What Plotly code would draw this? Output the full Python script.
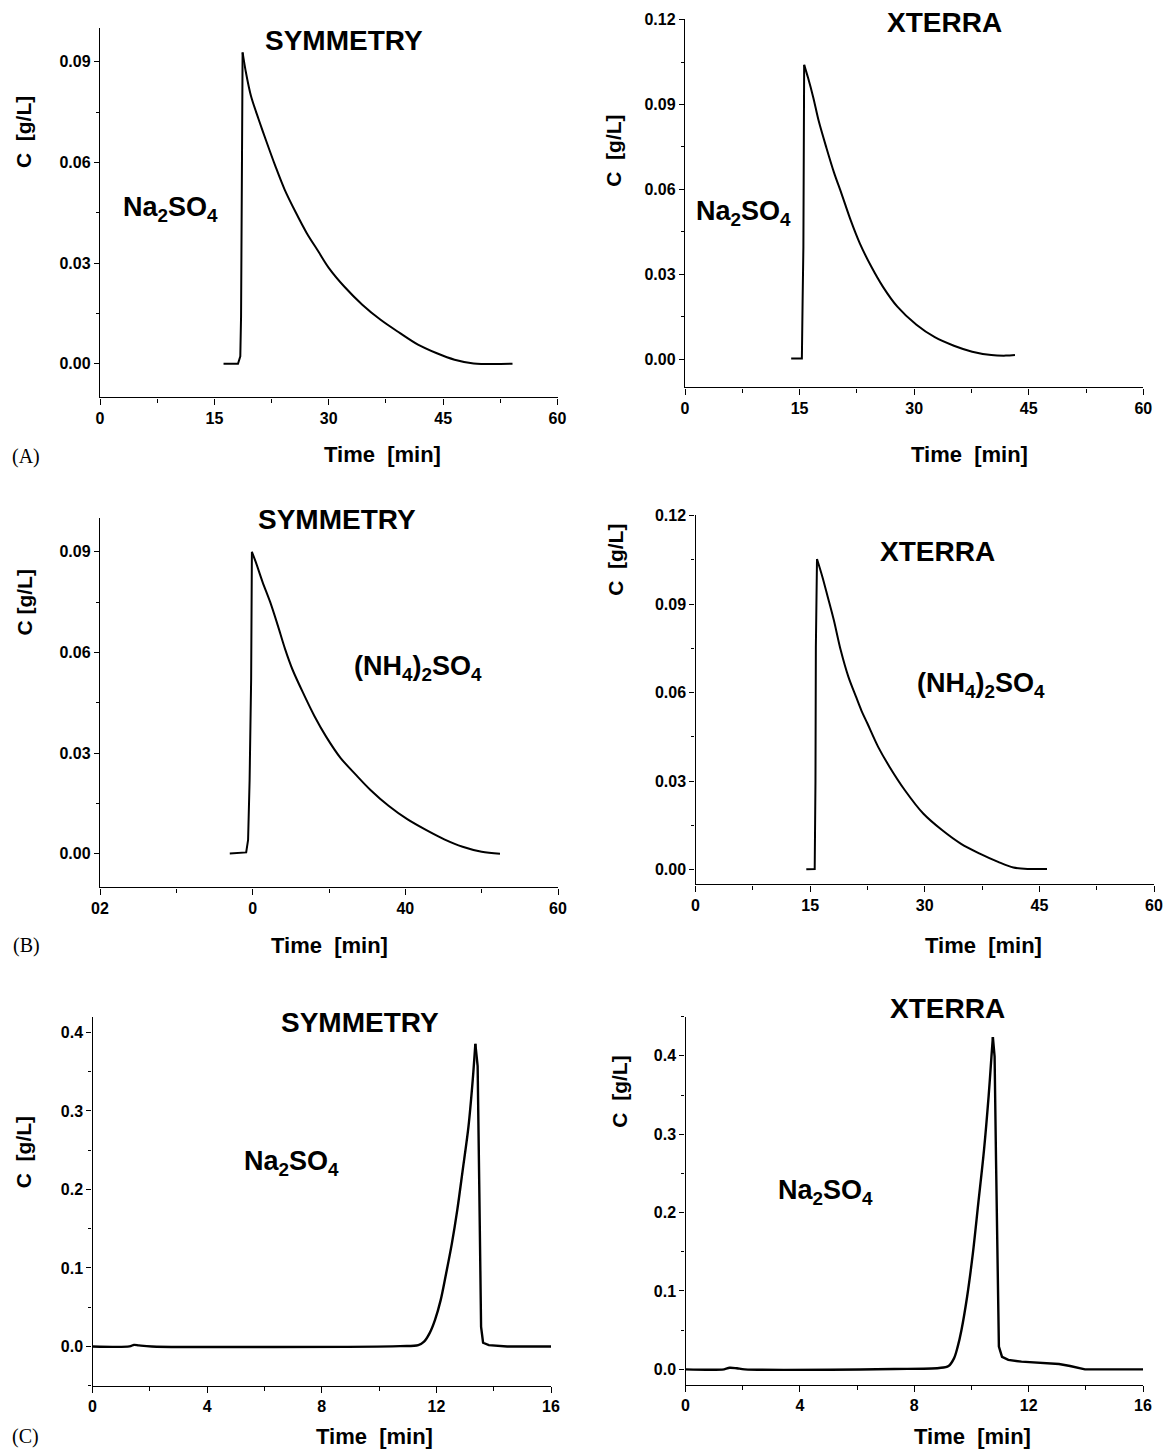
import plotly.graph_objects as go

# ---------------- data ----------------
# (A) Na2SO4 - SYMMETRY
a_sym_t = [16.2, 18.1, 18.4, 18.5, 18.6, 18.7, 19.1, 19.8, 20.8, 21.8, 23.0, 24.2, 25.7, 27.1, 28.6,
           30.0, 32.0, 34.4, 36.8, 39.3, 41.7, 44.1, 46.5, 49.0, 54.1]
a_sym_c = [0.0, 0.0, 0.0022, 0.0141, 0.053, 0.0928, 0.0873, 0.0798, 0.0729, 0.0664, 0.0589, 0.052,
           0.045, 0.039, 0.0336, 0.0286, 0.0231, 0.0176, 0.0131, 0.0092, 0.0057, 0.0032, 0.0012,
           0.0001, 0.0]
# (A) Na2SO4 - XTERRA
a_xt_t = [13.9, 15.3, 15.4, 15.5, 15.6, 16.1, 16.8, 17.5, 18.5, 19.5, 20.5, 21.7, 22.9, 24.4, 25.9,
          27.8, 30.3, 32.7, 35.2, 37.6, 40.1, 42.0, 43.2]
a_xt_c = [0.0002, 0.0002, 0.021, 0.0396, 0.104, 0.0995, 0.0924, 0.0842, 0.0748, 0.066, 0.0584,
          0.049, 0.0408, 0.0326, 0.0256, 0.0185, 0.0121, 0.0077, 0.0047, 0.0026, 0.0014, 0.0012,
          0.0014]
# (B) (NH4)2SO4 - SYMMETRY
b_sym_t = [17.0, 19.15, 19.4, 19.6, 19.8, 19.9, 20.4, 21.3, 22.3, 23.3, 24.25, 25.2, 26.7, 28.1,
           29.6, 31.5, 33.5, 35.4, 37.8, 40.25, 42.7, 45.1, 47.5, 50.0, 52.4]
b_sym_c = [0.0001, 0.0004, 0.0041, 0.022, 0.052, 0.09, 0.087, 0.081, 0.075, 0.068, 0.061, 0.055,
           0.0475, 0.041, 0.035, 0.0286, 0.0236, 0.0191, 0.0143, 0.0103, 0.0071, 0.0043, 0.0021,
           0.0006, 0.0]
# (B) (NH4)2SO4 - XTERRA
b_xt_t = [14.5, 15.6, 15.7, 15.75, 15.9, 16.6, 17.3, 18.1, 19.0, 20.0, 21.0, 21.7, 22.5, 23.9, 25.4,
          27.4, 29.8, 32.3, 34.7, 37.2, 39.6, 41.6, 43.6, 46.0]
b_xt_c = [0.0001, 0.0002, 0.03, 0.0755, 0.1053, 0.0993, 0.0925, 0.0846, 0.0744, 0.0654, 0.0586,
          0.054, 0.0495, 0.0416, 0.0348, 0.0269, 0.019, 0.0133, 0.0088, 0.0054, 0.0026, 0.0007,
          0.0002, 0.0002]
# (C) Na2SO4 - SYMMETRY
c_sym_t = [0.0, 1.29, 1.45, 1.62, 2.07, 10.73, 11.37, 11.57, 11.76, 11.95, 12.15, 12.34, 12.54,
           12.73, 12.92, 13.12, 13.27, 13.36, 13.44, 13.5, 13.56, 13.63, 13.83, 14.47, 16.0]
c_sym_c = [0.0, 0.0, 0.002, 0.0013, 0.0, 0.0004, 0.0017, 0.006, 0.0166, 0.0336, 0.059, 0.093, 0.131,
           0.174, 0.225, 0.28, 0.34, 0.3855, 0.357, 0.195, 0.025, 0.0047, 0.0017, 0.0, 0.0]
# (C) Na2SO4 - XTERRA
c_xt_t = [0.0, 1.35, 1.54, 1.8, 2.07, 7.3, 8.87, 9.2, 9.39, 9.52, 9.65, 9.85, 10.05, 10.24, 10.44,
          10.6, 10.7, 10.75, 10.81, 10.86, 10.91, 10.96, 11.07, 11.29, 11.75, 12.4, 13.06, 13.45,
          13.84, 13.97, 16.0]
c_xt_c = [0.0, 0.0, 0.002, 0.0013, 0.0, 0.0004, 0.0017, 0.0043, 0.014, 0.029, 0.05, 0.093, 0.148,
          0.212, 0.28, 0.348, 0.399, 0.424, 0.399, 0.267, 0.118, 0.029, 0.016, 0.012, 0.0098,
          0.0085, 0.0068, 0.0043, 0.0009, 0.0, 0.0]

# tick labels
ticks_b_sym_vals = [0, 20, 40, 60]
ticks_b_sym_text = ["02", "0", "40", "60"]

# ---------------- layout ----------------
W, H = 1166, 1452
FONT = "Liberation Sans, Arial, sans-serif"
SERIF = "Liberation Serif, Times New Roman, serif"

NA = "Na<sub>2</sub>SO<sub>4</sub>"
NH = "(NH<sub>4</sub>)<sub>2</sub>SO<sub>4</sub>"

# spline part: "decay" -> smooth after the peak ; "rise" -> smooth before the peak
panels = [
    dict(t=a_sym_t, c=a_sym_c, px=(100, 557.5), py=(28.3, 397.3), xr=[0, 60], yr=[-0.01, 0.1],
         xdt=15, xmin=7.5, ydt=0.03, ymin=0.015, yfmt=".2f", smooth="decay", lw=2.0,
         title="SYMMETRY", tpos=(32.0, 0.0963), salt=NA, spos=(9.2, 0.046),
         xt=(37.0, -0.0272), yt=(-10.0, 0.069), ytxt="C\u00a0 [g/L]", lab="(A)", lpos=(-9.7, -0.0276)),
    dict(t=a_xt_t, c=a_xt_c, px=(685, 1143.3), py=(19.3, 387.3), xr=[0, 60], yr=[-0.01, 0.1201],
         xdt=15, xmin=7.5, ydt=0.03, ymin=0.015, yfmt=".2f", smooth="decay", lw=2.0,
         title="XTERRA", tpos=(34.0, 0.1188), salt=NA, spos=(7.7, 0.0515),
         xt=(37.2, -0.0337), yt=(-9.4, 0.0737), ytxt="C\u00a0 [g/L]", lab=None),
    dict(t=b_sym_t, c=b_sym_c, px=(100, 558), py=(518.3, 887.3), xr=[0, 60], yr=[-0.01, 0.1],
         xvals=ticks_b_sym_vals, xtext=ticks_b_sym_text, xminvals=[10, 30, 50],
         ydt=0.03, ymin=0.015, yfmt=".2f", smooth="decay", lw=2.0,
         title="SYMMETRY", tpos=(31.1, 0.0995), salt=NH, spos=(41.6, 0.0555),
         xt=(30.1, -0.0274), yt=(-9.9, 0.075), ytxt="C [g/L]", lab="(B)", lpos=(-9.6, -0.0274)),
    dict(t=b_xt_t, c=b_xt_c, px=(695.5, 1154), py=(515.3, 884.3), xr=[0, 60], yr=[-0.005, 0.1201],
         xdt=15, xmin=7.5, ydt=0.03, ymin=0.015, yfmt=".2f", smooth="decay", lw=2.0,
         title="XTERRA", tpos=(31.7, 0.1078), salt=NH, spos=(37.4, 0.0625),
         xt=(37.7, -0.0257), yt=(-10.4, 0.105), ytxt="C\u00a0 [g/L]", lab=None),
    dict(t=c_sym_t, c=c_sym_c, px=(92.5, 551), py=(1016.7, 1385.7), xr=[0, 16], yr=[-0.05, 0.42],
         xdt=4, xmin=2, ydt=0.1, ymin=0.05, yfmt=".1f", smooth="rise", lw=2.4,
         title="SYMMETRY", tpos=(9.33, 0.412), salt=NA, spos=(6.94, 0.234),
         xt=(9.85, -0.1141), yt=(-2.4, 0.247), ytxt="C\u00a0 [g/L]", lab="(C)", lpos=(-2.33, -0.1141)),
    dict(t=c_xt_t, c=c_xt_c, px=(685.5, 1143), py=(1016.7, 1385.0), xr=[0, 16], yr=[-0.02, 0.45],
         xdt=4, xmin=2, ydt=0.1, ymin=0.05, yfmt=".1f", smooth="rise", lw=2.4,
         title="XTERRA", tpos=(9.17, 0.4609), salt=NA, spos=(4.88, 0.226),
         xt=(10.05, -0.0851), yt=(-2.3, 0.354), ytxt="C\u00a0 [g/L]", lab=None),
]


def to_paper(p, t, c):
    """map a data position of panel p to paper fractions (for labels outside the plot area)"""
    x0, x1 = p["px"]
    y0, y1 = p["py"]
    xpix = x0 + (t - p["xr"][0]) / (p["xr"][1] - p["xr"][0]) * (x1 - x0)
    ypix = y1 - (c - p["yr"][0]) / (p["yr"][1] - p["yr"][0]) * (y1 - y0)
    return xpix / W, 1 - ypix / H


fig = go.Figure()
annotations = []
layout = {}
for i, p in enumerate(panels, start=1):
    xa = "x" if i == 1 else f"x{i}"
    ya = "y" if i == 1 else f"y{i}"
    xkey = "xaxis" if i == 1 else f"xaxis{i}"
    ykey = "yaxis" if i == 1 else f"yaxis{i}"
    k = p["c"].index(max(p["c"]))
    seg_rise = (p["t"][:k + 1], p["c"][:k + 1])
    seg_fall = (p["t"][k:], p["c"][k:])
    for seg, is_rise in ((seg_rise, True), (seg_fall, False)):
        smooth = (p["smooth"] == "rise") == is_rise
        fig.add_trace(go.Scatter(x=seg[0], y=seg[1], mode="lines", xaxis=xa, yaxis=ya,
                                 line=dict(color="black", width=p["lw"],
                                           shape="spline" if smooth else "linear",
                                           smoothing=0.9 if smooth else None),
                                 showlegend=False, hoverinfo="skip"))
    tickfont = dict(family=FONT, size=16, color="black", weight="bold")
    xcfg = dict(domain=[p["px"][0] / W, p["px"][1] / W], range=p["xr"], anchor=ya,
                automargin=False, fixedrange=True,
                showline=True, linecolor="black", linewidth=1.4, mirror=False,
                showgrid=False, zeroline=False, ticks="outside", ticklen=6, tickwidth=1.4,
                tickcolor="black", tickfont=tickfont)
    if "xvals" in p:
        xcfg.update(tickmode="array", tickvals=p["xvals"], ticktext=p["xtext"],
                    minor=dict(tickmode="array", tickvals=p["xminvals"], ticks="outside",
                               ticklen=4, tickwidth=1.2, tickcolor="black", showgrid=False))
    else:
        xcfg.update(tickmode="linear", tick0=0, dtick=p["xdt"],
                    minor=dict(dtick=p["xmin"], tick0=0, ticks="outside", ticklen=4,
                               tickwidth=1.2, tickcolor="black", showgrid=False))
    ycfg = dict(domain=[1 - p["py"][1] / H, 1 - p["py"][0] / H], range=p["yr"], anchor=xa,
                automargin=False, fixedrange=True,
                showline=True, linecolor="black", linewidth=1.4, mirror=False,
                showgrid=False, zeroline=False, ticks="outside", ticklen=5, tickwidth=1.4,
                tickcolor="black", tickfont=tickfont, tickmode="linear", tick0=0,
                dtick=p["ydt"], tickformat=p["yfmt"],
                minor=dict(dtick=p["ymin"], tick0=0, ticks="outside", ticklen=3,
                           tickwidth=1.2, tickcolor="black", showgrid=False))
    layout[xkey] = xcfg
    layout[ykey] = ycfg

    bold = dict(family=FONT, color="black", weight="bold")

    def add(text, pos, size, font=None, angle=0):
        xp, yp = to_paper(p, *pos)
        annotations.append(dict(text=text, x=xp, y=yp, xref="paper", yref="paper",
                                xanchor="center", yanchor="middle", showarrow=False,
                                textangle=angle, font=font or dict(size=size, **bold)))

    add(p["title"], p["tpos"], 28)
    add(p["salt"], p["spos"], 27)
    add("Time\u00a0 [min]", p["xt"], 22)
    add(p["ytxt"], p["yt"], 21, angle=-90)
    if p["lab"]:
        add(p["lab"], p["lpos"], 20, font=dict(family=SERIF, size=20, color="black"))

fig.update_layout(template="none", width=W, height=H, autosize=False,
                  margin=dict(l=0, r=0, t=0, b=0, pad=0),
                  paper_bgcolor="white", plot_bgcolor="white", showlegend=False,
                  annotations=annotations, **layout)

# remove the browser's default page margin so the figure starts at the window's corner
fig.write_html("out.html", config={"displayModeBar": False},
               post_script="document.body.style.margin='0';document.body.style.padding='0';"
                           "document.body.style.overflow='hidden';")
